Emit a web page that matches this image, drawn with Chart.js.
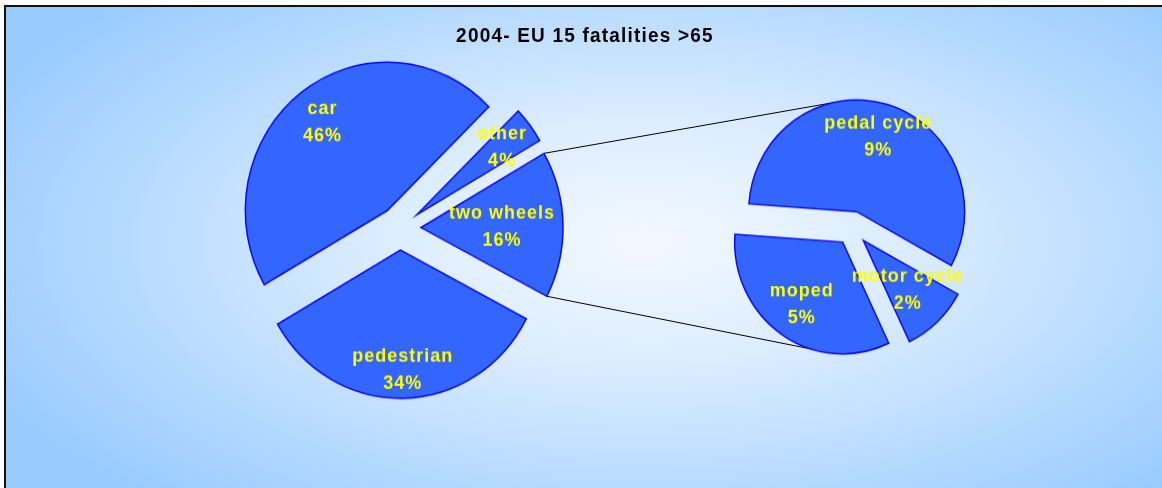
<!DOCTYPE html>
<html lang="en">
<head>
    <meta charset="UTF-8">
    <title>2004- EU 15 fatalities &gt;65</title>
    <script src="https://cdn.jsdelivr.net/npm/chart.js"></script>
    <style>
        html, body { margin: 0; padding: 0; }
        body { width: 1162px; height: 488px; overflow: hidden; background: #fff; position: relative; }
        #frame {
            position: absolute; left: 4px; top: 5px; width: 1160px; height: 490px;
            border-left: 2px solid #111; border-top: 2px solid #111;
            background: radial-gradient(ellipse 62% 70% at 55% 48%, #f2f8ff 0%, #dcedff 35%, #b8dbff 70%, #9acbff 100%);
        }
        #title {
            position: absolute; left: 0; top: 24px; width: 1170px; text-align: center;
            font: bold 19px "Liberation Sans", Arial, sans-serif; letter-spacing: 1.2px; line-height: 22px; color: #000;
            transform: scaleY(1.1);
        }
        canvas { position: absolute; }
        #lines { left: 0; top: 0; }
        #mainPie { left: 220px; top: 48px; transform: scaleY(1.045); }
        #subPie { left: 722px; top: 98px; transform: scaleY(1.035); }
    </style>
</head>
<body>
    <div id="frame"></div>
    <canvas id="lines" width="1162" height="488"></canvas>
    <div id="title"></div>
    <canvas id="mainPie" width="360" height="360"></canvas>
    <canvas id="subPie" width="260" height="260"></canvas>

    <script>
        // chart data
        const titleText = '2004- EU 15 fatalities >65';
        const mainLabels = ['car', 'other', 'two wheels', 'pedestrian'];
        const mainValues = [46, 4, 16, 34];
        const subLabels = ['pedal cycle', 'motor cycle', 'moped'];
        const subValues = [9.1, 1.6, 5.3];

        // label distance from the slice tip, as a share of the radius
        const mainLabelPos = [0.755, 0.755, 0.57, 0.8];
        const subLabelPos = [0.71, 0.6, 0.67];

        document.getElementById('title').textContent = titleText;

        // pulls every slice out from the centre and writes the yellow labels
        function explodePlugin(explode, labelPos) {
            return {
                id: 'explode',
                beforeDatasetDraw(chart, args) {
                    const ctx = chart.ctx;
                    chart.getDatasetMeta(args.index).data.forEach(arc => {
                        const mid = (arc.startAngle + arc.endAngle) / 2;
                        ctx.save();
                        ctx.translate(Math.cos(mid) * explode, Math.sin(mid) * explode);
                        arc.draw(ctx);
                        ctx.restore();
                    });
                    return false;
                },
                afterDatasetsDraw(chart) {
                    const ctx = chart.ctx;
                    const values = chart.data.datasets[0].data;
                    ctx.save();
                    ctx.font = 'bold 18px "Liberation Sans", Arial, sans-serif';
                    ctx.letterSpacing = '1px';
                    ctx.fillStyle = '#ffff00';
                    ctx.textAlign = 'center';
                    ctx.textBaseline = 'middle';
                    chart.getDatasetMeta(0).data.forEach((arc, i) => {
                        const mid = (arc.startAngle + arc.endAngle) / 2;
                        const d = explode + labelPos[i] * arc.outerRadius;
                        const x = arc.x + Math.cos(mid) * d;
                        const y = arc.y + Math.sin(mid) * d;
                        ctx.fillText(chart.data.labels[i], x, y - 12);
                        ctx.fillText(Math.round(values[i]) + '%', x, y + 14);
                    });
                    ctx.restore();
                }
            };
        }

        function makePie(id, labels, values, radius, rotation, explode, labelPos) {
            return new Chart(document.getElementById(id), {
                type: 'pie',
                data: {
                    labels: labels,
                    datasets: [{
                        data: values,
                        backgroundColor: '#3366ff',
                        borderColor: '#0a0ae6',
                        borderWidth: 1.5,
                        borderJoinStyle: 'miter'
                    }]
                },
                options: {
                    responsive: false,
                    animation: false,
                    events: [],
                    radius: radius,
                    rotation: rotation,
                    layout: { padding: 0 },
                    plugins: { legend: { display: false }, tooltip: { enabled: false } }
                },
                plugins: [explodePlugin(explode, labelPos)]
            });
        }

        const mainExplode = 21;
        const subExplode = 16.5;
        const mainChart = makePie('mainPie', mainLabels, mainValues, 142, 240, mainExplode, mainLabelPos);
        const subChart = makePie('subPie', subLabels, subValues, 108, 274, subExplode, subLabelPos);
        mainChart.stretch = 1.045;
        subChart.stretch = 1.035;

        // point on the rim of an exploded slice, in page coordinates
        function rimPoint(chart, index, angle, explode) {
            const arc = chart.getDatasetMeta(0).data[index];
            const mid = (arc.startAngle + arc.endAngle) / 2;
            const cv = chart.canvas;
            const half = cv.height / 2;
            const ly = arc.y + Math.sin(mid) * explode + Math.sin(angle) * arc.outerRadius;
            return [
                cv.offsetLeft + arc.x + Math.cos(mid) * explode + Math.cos(angle) * arc.outerRadius,
                cv.offsetTop + half + (ly - half) * chart.stretch
            ];
        }

        // connector lines from the "two wheels" slice to the breakdown pie
        function drawConnectors() {
            const ctx = document.getElementById('lines').getContext('2d');
            const tw = mainChart.getDatasetMeta(0).data[2];
            const a1 = rimPoint(mainChart, 2, tw.startAngle, mainExplode);
            const a2 = rimPoint(mainChart, 2, tw.endAngle, mainExplode);
            const b1 = rimPoint(subChart, 0, 256 * Math.PI / 180, subExplode);
            const b2 = rimPoint(subChart, 2, 107 * Math.PI / 180, subExplode);
            ctx.strokeStyle = '#000';
            ctx.lineWidth = 1;
            ctx.beginPath();
            ctx.moveTo(a1[0], a1[1]);
            ctx.lineTo(b1[0], b1[1]);
            ctx.moveTo(a2[0], a2[1]);
            ctx.lineTo(b2[0], b2[1]);
            ctx.stroke();
        }
        drawConnectors();
    </script>
</body>
</html>
